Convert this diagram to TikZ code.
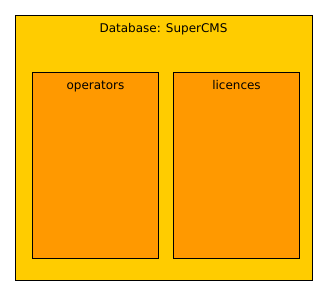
\documentclass[tikz,border=0pt]{standalone}
\usepackage{fontspec}
\setmainfont{DejaVu Sans}
\definecolor{dbfill}{HTML}{FFCC00}
\definecolor{tblfill}{HTML}{FF9900}
\begin{document}
\begin{tikzpicture}[x=1pt,y=-1pt,
  dbbox/.style={draw=black,fill=dbfill,line width=1pt},
  tblbox/.style={draw=black,fill=tblfill,line width=1pt},
  lbl/.style={font=\fontsize{12}{14}\selectfont,inner sep=0pt,anchor=base}]
\useasboundingbox (0,0) rectangle (327,296);
\draw[dbbox] (15.5,15.5) rectangle (312.5,281);
\node[lbl] (db) at (163.5,32.5) {Database: SuperCMS};
\draw[tblbox] (32.5,72.5) rectangle (158.5,259);
\draw[tblbox] (173.5,72.5) rectangle (299.5,259);
\node[lbl] (ops) at (95.5,90) {operators};
\node[lbl] (lic) at (236.5,90) {licences};
\end{tikzpicture}
\end{document}
